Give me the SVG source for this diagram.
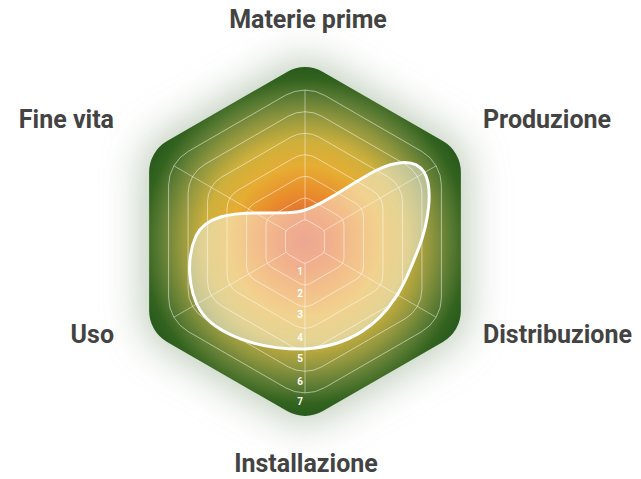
<svg xmlns="http://www.w3.org/2000/svg" width="641" height="479" viewBox="0 0 641 479">
<style>
.lbl{font-family:Roboto,"Liberation Sans",sans-serif;font-weight:700;font-size:25px;fill:#434343}
.num{font-family:Roboto,"Liberation Sans",sans-serif;font-weight:700;font-size:10px;fill:#ffffff;text-anchor:middle}
.ring{fill:none;stroke:#ffffff;stroke-opacity:0.5;stroke-width:1}
.spoke{stroke:#ffffff;stroke-opacity:0.45;stroke-width:1}
</style>
<defs>
<radialGradient id="g" gradientUnits="userSpaceOnUse" cx="0" cy="0" r="180">
<stop offset="0" stop-color="#e0603a"/>
<stop offset="0.15" stop-color="#e5702f"/>
<stop offset="0.28" stop-color="#e98e2c"/>
<stop offset="0.42" stop-color="#e6ad33"/>
<stop offset="0.56" stop-color="#cdb03c"/>
<stop offset="0.69" stop-color="#94983f"/>
<stop offset="0.81" stop-color="#5a7b33"/>
<stop offset="0.9" stop-color="#33631f"/>
<stop offset="1" stop-color="#23561b"/>
</radialGradient>
<filter id="glow" x="-50%" y="-50%" width="200%" height="200%">
<feGaussianBlur stdDeviation="20"/>
</filter>
</defs>
<g id="chart" transform="translate(305 241.5)">
<path id="glowhex" filter="url(#glow)" fill="#8fa888" opacity="0.6" transform="scale(1.04)" d="M18,-169.61 L137.88,-100.39 A36 36 0 0 1 155.88,-69.22 L155.88,69.22 A36 36 0 0 1 137.88,100.39 L18,169.61 A36 36 0 0 1 -18,169.61 L-137.88,100.39 A36 36 0 0 1 -155.88,69.22 L-155.88,-69.22 A36 36 0 0 1 -137.88,-100.39 L-18,-169.61 A36 36 0 0 1 18,-169.61Z"/>
<path id="hex" fill="url(#g)" d="M18,-169.61 L137.88,-100.39 A36 36 0 0 1 155.88,-69.22 L155.88,69.22 A36 36 0 0 1 137.88,100.39 L18,169.61 A36 36 0 0 1 -18,169.61 L-137.88,100.39 A36 36 0 0 1 -155.88,69.22 L-155.88,-69.22 A36 36 0 0 1 -137.88,-100.39 L-18,-169.61 A36 36 0 0 1 18,-169.61Z"/>
<g id="rings">
<path class="ring" d="M2.81,-20.88 L16.67,-12.87 A5.63 5.63 0 0 1 19.49,-8 L19.49,8 A5.63 5.63 0 0 1 16.67,12.87 L2.81,20.88 A5.63 5.63 0 0 1 -2.81,20.88 L-16.67,12.87 A5.63 5.63 0 0 1 -19.49,8 L-19.49,-8 A5.63 5.63 0 0 1 -16.67,-12.87 L-2.81,-20.88 A5.63 5.63 0 0 1 2.81,-20.88Z"/>
<path class="ring" d="M5.63,-41.75 L33.35,-25.75 A11.25 11.25 0 0 1 38.97,-16.01 L38.97,16.01 A11.25 11.25 0 0 1 33.35,25.75 L5.63,41.75 A11.25 11.25 0 0 1 -5.63,41.75 L-33.35,25.75 A11.25 11.25 0 0 1 -38.97,16.01 L-38.97,-16.01 A11.25 11.25 0 0 1 -33.35,-25.75 L-5.63,-41.75 A11.25 11.25 0 0 1 5.63,-41.75Z"/>
<path class="ring" d="M8.44,-62.63 L50.02,-38.62 A16.88 16.88 0 0 1 58.46,-24.01 L58.46,24.01 A16.88 16.88 0 0 1 50.02,38.62 L8.44,62.63 A16.88 16.88 0 0 1 -8.44,62.63 L-50.02,38.62 A16.88 16.88 0 0 1 -58.46,24.01 L-58.46,-24.01 A16.88 16.88 0 0 1 -50.02,-38.62 L-8.44,-62.63 A16.88 16.88 0 0 1 8.44,-62.63Z"/>
<path class="ring" d="M11.25,-83.5 L66.69,-51.5 A22.5 22.5 0 0 1 77.94,-32.01 L77.94,32.01 A22.5 22.5 0 0 1 66.69,51.5 L11.25,83.5 A22.5 22.5 0 0 1 -11.25,83.5 L-66.69,51.5 A22.5 22.5 0 0 1 -77.94,32.01 L-77.94,-32.01 A22.5 22.5 0 0 1 -66.69,-51.5 L-11.25,-83.5 A22.5 22.5 0 0 1 11.25,-83.5Z"/>
<path class="ring" d="M14.06,-104.38 L83.36,-64.37 A28.13 28.13 0 0 1 97.43,-40.02 L97.43,40.02 A28.13 28.13 0 0 1 83.36,64.37 L14.06,104.38 A28.13 28.13 0 0 1 -14.06,104.38 L-83.36,64.37 A28.13 28.13 0 0 1 -97.43,40.02 L-97.43,-40.02 A28.13 28.13 0 0 1 -83.36,-64.37 L-14.06,-104.38 A28.13 28.13 0 0 1 14.06,-104.38Z"/>
<path class="ring" d="M16.88,-125.25 L100.04,-77.25 A33.75 33.75 0 0 1 116.91,-48.02 L116.91,48.02 A33.75 33.75 0 0 1 100.04,77.25 L16.88,125.25 A33.75 33.75 0 0 1 -16.88,125.25 L-100.04,77.25 A33.75 33.75 0 0 1 -116.91,48.02 L-116.91,-48.02 A33.75 33.75 0 0 1 -100.04,-77.25 L-16.88,-125.25 A33.75 33.75 0 0 1 16.88,-125.25Z"/>
<path class="ring" d="M19.69,-146.13 L116.71,-90.12 A39.38 39.38 0 0 1 136.4,-56.02 L136.4,56.02 A39.38 39.38 0 0 1 116.71,90.12 L19.69,146.13 A39.38 39.38 0 0 1 -19.69,146.13 L-116.71,90.12 A39.38 39.38 0 0 1 -136.4,56.02 L-136.4,-56.02 A39.38 39.38 0 0 1 -116.71,-90.12 L-19.69,-146.13 A39.38 39.38 0 0 1 19.69,-146.13Z"/>
</g>
<g id="spokes">
<line class="spoke" x1="0" y1="-21.6" x2="0" y2="-151.4"/>
<line class="spoke" x1="18.7" y1="-10.8" x2="131.1" y2="-75.7"/>
<line class="spoke" x1="18.7" y1="10.8" x2="131.1" y2="75.7"/>
<line class="spoke" x1="0" y1="21.6" x2="0" y2="151.4"/>
<line class="spoke" x1="-18.7" y1="10.8" x2="-131.1" y2="75.7"/>
<line class="spoke" x1="-18.7" y1="-10.8" x2="-131.1" y2="-75.7"/>
</g>
</g>
<g id="blob">
<path fill="#ffffff" fill-opacity="0.45" stroke="#ffffff" stroke-width="3" stroke-linejoin="round" d="M305,210 C325,204 350,184 375,171 C395,161 415,158 424,172 C434,188 428,225 418,250 C410,270 404,285 395,298 C380,322 352,346 305,349 C258,350 215,334 200,310 C188,290 186,258 196,236 C206,216 230,213 260,213 C285,213 296,213 305,210 Z"/>
</g>
<g id="scale">
<text class="num" x="300" y="275.2">1</text>
<text class="num" x="300" y="297">2</text>
<text class="num" x="300" y="318">3</text>
<text class="num" x="300" y="341">4</text>
<text class="num" x="300" y="362">5</text>
<text class="num" x="300" y="385.2">6</text>
<text class="num" x="300" y="405.2">7</text>
</g>
<g id="label-materie"><text class="lbl" x="308" y="28" text-anchor="middle">Materie prime</text></g>
<g id="label-produzione"><text class="lbl" x="483" y="128">Produzione</text></g>
<g id="label-distribuzione"><text class="lbl" x="483" y="343">Distribuzione</text></g>
<g id="label-installazione"><text class="lbl" x="306" y="472" text-anchor="middle">Installazione</text></g>
<g id="label-uso"><text class="lbl" x="114" y="343" text-anchor="end">Uso</text></g>
<g id="label-finevita"><text class="lbl" x="114" y="128" text-anchor="end">Fine vita</text></g>
</svg>
